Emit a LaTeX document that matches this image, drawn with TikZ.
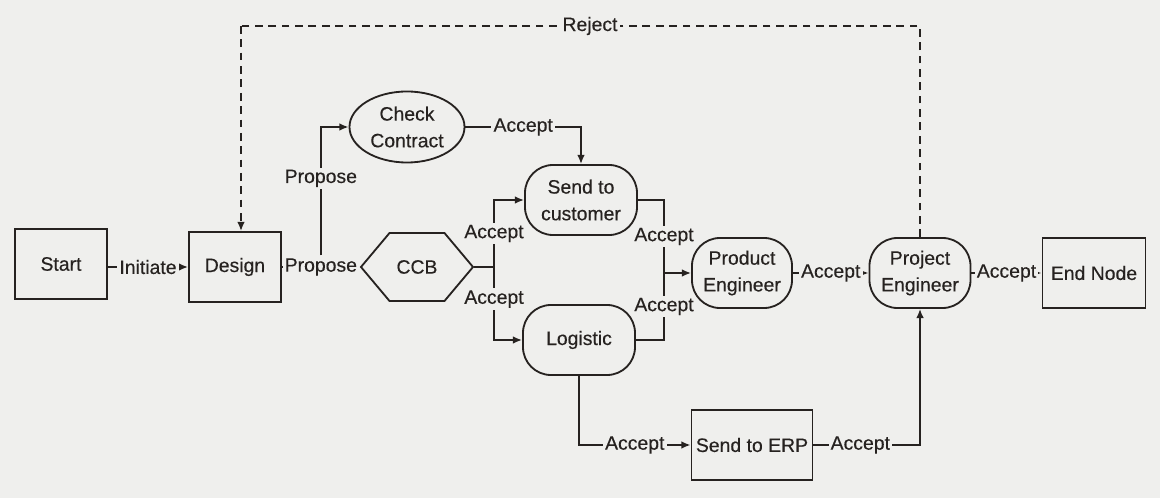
\documentclass[tikz,border=0pt]{standalone}
\usepackage{fontspec}
\setmainfont{Liberation Sans}[FakeBold=0.35]
\usetikzlibrary{arrows.meta}
\usetikzlibrary{shapes.geometric, shapes.symbols}
\usetikzlibrary{positioning}
\usetikzlibrary{calc}
\definecolor{paper}{RGB}{239,239,237}
\definecolor{ink}{RGB}{38,34,32}

\begin{document}
\begin{tikzpicture}[x=0.025cm, y=-0.025cm, line width=1.3pt, draw=ink,
    >={Latex[length=6.5pt, width=5.5pt]},
    every node/.style={font=\fontsize{13.8}{19}\selectfont, text=ink, align=center, inner sep=1pt},
    box/.style={draw, rectangle, minimum height=1.75cm},
    roundbox/.style={draw, rectangle, rounded corners=0.7cm, minimum width=2.8cm, minimum height=1.75cm},
    lbl/.style={fill=paper, inner sep=1.5pt},
    rejectline/.style={dash pattern=on 5.5pt off 4pt}]
      % Page and background
      \fill[paper] (0,0) rectangle (1160,498);
      \useasboundingbox (0,0) rectangle (1160,498);
      % Height of the row with the engineers
      \def\rowy{273}
      % Nodes of the flow
      \node[box, minimum width=2.3cm] (start) at (61,264) {Start};
      \node[box, minimum width=2.3cm] (design) at (235,267) {Design};
      \node[draw, ellipse, minimum width=2.875cm, minimum height=1.775cm] (check) at (407,127) {Check\\Contract};
      \node[draw, signal, signal to=east and west, signal pointer angle=100,
            minimum width=2.8cm, minimum height=1.7cm] (ccb) at (417,267) {CCB};
      \node[roundbox] (send) at (581,200) {Send to\\customer};
      \node[roundbox] (logistic) at (579,340) {Logistic};
      \node[roundbox, minimum width=2.5cm] (prod) at (742,\rowy) {Product\\Engineer};
      \node[roundbox, minimum width=2.525cm] (proj) at (920,\rowy) {Project\\Engineer};
      \node[box, minimum width=2.575cm] (endn) at (1094,\rowy) {End Node};
      \node[box, minimum width=3.025cm] (erp) at (752,445) {Send to ERP};
      % Split and merge points
      \coordinate (split) at (494,267);
      \coordinate (merge) at (664,\rowy);
      \coordinate (rr) at (920,26);
      \coordinate (rl) at (241,26);
      % Main row
      \draw[->] (start.east |- design) -- node[lbl] (linit) {Initiate} (design);
      \draw[->] (design) -- node[lbl] (lprop) {Propose} (ccb);
      \draw[->] (lprop.north) |- node[lbl, pos=0.3] {Propose} (check.west);
      \draw[->] (check.east) -| node[lbl, pos=0.25] {Accept} (send.north);
      % From CCB to customer and logistic
      \draw (ccb.east) -- (split);
      \draw[->] (split) |- node[lbl, pos=0.25] {Accept} (send.west);
      \draw[->] (split) |- node[lbl, pos=0.22] {Accept} (logistic.west);
      \draw (send.east) -| node[lbl, pos=0.75] {Accept} (merge);
      \draw (logistic.east) -| node[lbl, pos=0.75] {Accept} (merge);
      \draw[->] (merge) -- (prod.west);
      \draw[->] (prod) -- node[lbl] {Accept} (proj);
      \draw[->] (proj) -- node[lbl] {Accept} (endn);
      % Path through the ERP
      \draw[->] (logistic.south) |- node[lbl, pos=0.75] {Accept} (erp.west);
      \draw[->] (erp.east) -| node[lbl, pos=0.22] {Accept} (proj.south);
      % Reject back to design
      \draw[rejectline] (proj.north) -- (rr) -- node[lbl, pos=0.486] {Reject} (rl);
      \draw[rejectline, ->] (rl) -- (rl |- design.north);
\end{tikzpicture}
\end{document}
